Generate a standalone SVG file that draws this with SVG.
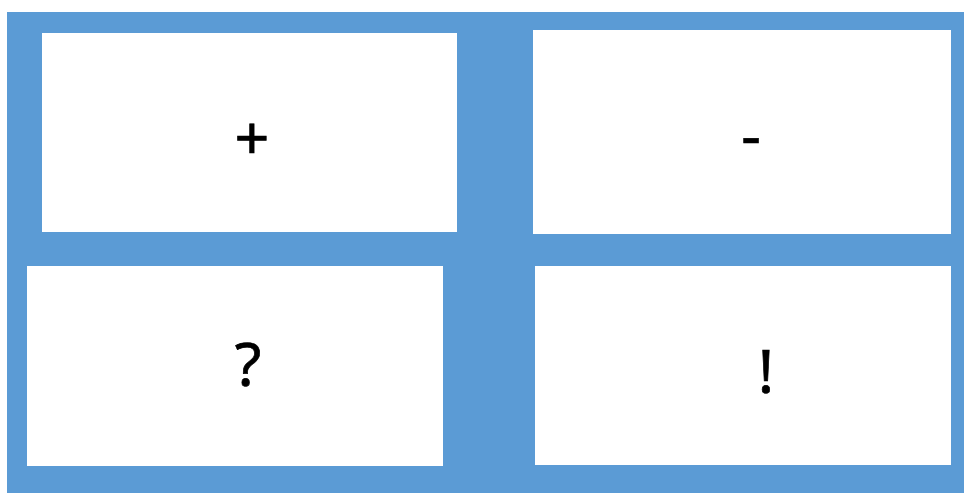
<svg xmlns="http://www.w3.org/2000/svg" width="964" height="493" viewBox="0 0 964 493">
<style>
.box{fill:#ffffff;}
.lbl{font-family:"Noto Sans",sans-serif;font-size:61px;fill:#000;stroke:#000;stroke-width:0.7;text-anchor:middle;}
</style>
<rect x="0" y="0" width="964" height="493" fill="#ffffff"/>
<rect id="bg" x="7" y="12" width="957" height="481" fill="#5B9BD5"/>
<g id="node-plus"><rect class="box" x="42" y="33" width="415" height="199"/><text class="lbl" x="252" y="160">+</text></g>
<g id="node-minus"><rect class="box" x="533" y="30" width="418" height="204"/><text class="lbl" x="751" y="157">-</text></g>
<g id="node-question"><rect class="box" x="27" y="266" width="416" height="200"/><text class="lbl" x="248" y="386">?</text></g>
<g id="node-exclaim"><rect class="box" x="535" y="266" width="416" height="199"/><text class="lbl" x="766" y="393">!</text></g>
<g id="connectors"></g>
</svg>
